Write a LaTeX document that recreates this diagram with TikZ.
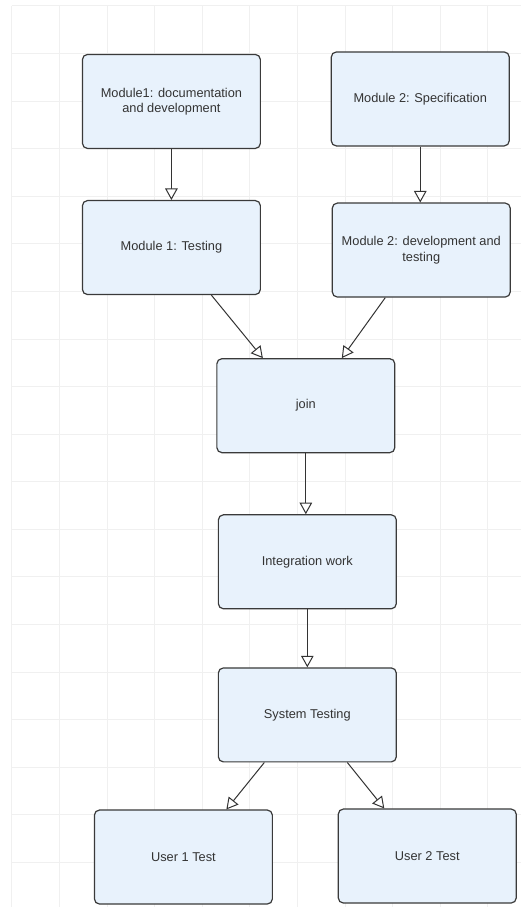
\documentclass[tikz,border=0pt]{standalone}
\usepackage{fontspec}
\setmainfont{Liberation Sans}
\usetikzlibrary{arrows.meta, positioning}
\definecolor{boxfill}{HTML}{E8F2FC}
\definecolor{boxline}{HTML}{3A3A3A}
\definecolor{inkgray}{HTML}{333333}
\definecolor{gridgray}{HTML}{F0F0F0}
\tikzstyle{line} = [draw, inkgray, line width=1pt, -{Triangle[length=11.5pt, width=12.5pt, fill=white]}]

\begin{document}
\begin{tikzpicture}[x=1pt, y=1pt, font=\fontsize{12.8}{15.5}\selectfont]
  % Define styles
  \tikzstyle{stage} = [rectangle, rounded corners=5pt, minimum width=178pt, minimum height=94pt, align=center, draw=boxline, line width=1.2pt, fill=boxfill, text=inkgray]
  \tikzstyle{gridline} = [draw=gridgray, line width=1pt]

  % Background grid
  \fill[white] (0,0) rectangle (521,-907);
  \foreach \gx in {12,59.6,...,521} \draw[gridline] (\gx,-6) -- (\gx,-907);
  \foreach \gy in {6,53.6,...,907} \draw[gridline] (12,-\gy) -- (521,-\gy);
  \useasboundingbox (0,0) rectangle (521,-907);

  % Place nodes
  \node [stage] (m1doc) at (171.5,-101.5) {Module1: documentation\\and development};
  \node [stage, below=51pt of m1doc] (m1test) {Module 1: Testing};
  \node [stage] (m2spec) at (420.5,-99) {Module 2: Specification};
  \node [stage, below=56pt of m2spec, xshift=1pt] (m2dev) {Module 2: development and\\testing};
  \node [stage, below=63pt of m1test, xshift=134.5pt] (join) {join};
  \node [stage, below=61pt of join, xshift=1.5pt] (integ) {Integration work};
  \node [stage, below=58pt of integ] (systest) {System Testing};
  \node [stage, below=47pt of systest, xshift=-124pt] (user1) {User 1 Test};
  \node [stage, below=46pt of systest, xshift=120pt] (user2) {User 2 Test};

  % Draw edges
  \path [line] (m1doc) -- (m1test);
  \path [line] (m2spec) -- (m2spec |- m2dev.north);
  \path [line] ([xshift=40pt]m1test.south) -- ([xshift=-43pt]join.north);
  \path [line] ([xshift=-36pt]m2dev.south) -- ([xshift=36pt]join.north);
  \path [line] (join) -- (join |- integ.north);
  \path [line] (integ) -- (integ |- systest.north);
  \path [line] ([xshift=-43pt]systest.south) -- ([xshift=43pt]user1.north);
  \path [line] ([xshift=40pt]systest.south) -- ([xshift=-43pt]user2.north);

\end{tikzpicture}
\end{document}
